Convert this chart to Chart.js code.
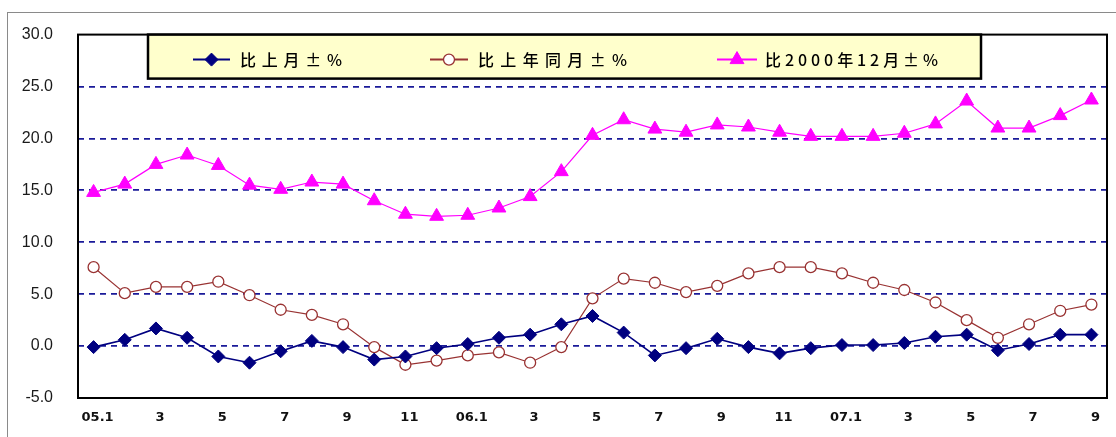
<!DOCTYPE html>
<html>
<head>
<meta charset="utf-8">
<script src="https://cdn.jsdelivr.net/npm/chart.js@4"></script>
<style>
  html, body { margin: 0; padding: 0; background: #fff; overflow: hidden; }
  #frame { position: absolute; left: 7px; top: 12px; width: 1300px; height: 700px;
           border-left: 1px solid #8a8a8a; border-top: 1.5px solid #8a8a8a; }
  #wrap { position: absolute; left: 0; top: 0; width: 1116px; height: 437px; }
</style>
</head>
<body>
<div id="frame"></div>
<div id="wrap"><canvas id="c"></canvas></div>
<script>
// Categories: months from 2005.1 to 2007.9
const categories = ['05.1','2','3','4','5','6','7','8','9','10','11','12',
                    '06.1','2','3','4','5','6','7','8','9','10','11','12',
                    '07.1','2','3','4','5','6','7','8','9'];
// Series labels
const seriesNames = ['比上月±%', '比上年同月±%', '比2000年12月±%'];
// Series values (%)
const momValues = [-0.1, 0.6, 1.7, 0.8, -1.0, -1.6, -0.5, 0.5, -0.1, -1.3, -1.0, -0.2,
                    0.2, 0.8, 1.1, 2.1, 2.9, 1.3, -0.9, -0.2, 0.7, -0.1, -0.7, -0.2,
                    0.1, 0.1, 0.3, 0.9, 1.1, -0.4, 0.2, 1.1, 1.1];
const yoyValues = [7.6, 5.1, 5.7, 5.7, 6.2, 4.9, 3.5, 3.0, 2.1, -0.1, -1.8, -1.4,
                   -0.9, -0.6, -1.6, -0.1, 4.6, 6.5, 6.1, 5.2, 5.8, 7.0, 7.6, 7.6,
                    7.0, 6.1, 5.4, 4.2, 2.5, 0.8, 2.1, 3.4, 4.0];
const baseValues = [14.8, 15.6, 17.5, 18.4, 17.4, 15.5, 15.1, 15.8, 15.6, 14.0, 12.7, 12.5,
                    12.6, 13.3, 14.4, 16.8, 20.3, 21.8, 20.9, 20.6, 21.3, 21.1, 20.6, 20.2,
                    20.2, 20.2, 20.5, 21.4, 23.6, 21.0, 21.0, 22.2, 23.7];
// Y axis ticks
const yTicks = [-5, 0, 5, 10, 15, 20, 25, 30];
const gridValues = [0, 5, 10, 15, 20, 25];

const colors = ['#000080', '#993333', '#ff00ff'];

const chartFrame = {
  id: 'chartFrame',
  afterDraw(chart) {
    const { ctx, chartArea: a } = chart;
    ctx.save();
    // plot border
    ctx.strokeStyle = '#000';
    ctx.lineWidth = 2;
    ctx.strokeRect(a.left, a.top, a.right - a.left, a.bottom - a.top);
    // legend box
    const lx = a.left + 70, ly = a.top, lw = 833, lh = 44;
    ctx.fillStyle = '#ffffcc';
    ctx.fillRect(lx, ly, lw, lh);
    ctx.lineWidth = 2.5;
    ctx.strokeStyle = '#000';
    ctx.strokeRect(lx, ly, lw, lh);
    const items = [
      { line: 45, lineW: 37, text: 92, textW: 102 },
      { line: 282, lineW: 38, text: 330, textW: 149 },
      { line: 569, lineW: 40, text: 617, textW: 173 }
    ];
    const cy = ly + 25;
    chart.data.datasets.forEach((ds, i) => {
      const it = items[i];
      ctx.save();
      ctx.strokeStyle = ds.borderColor;
      ctx.lineWidth = 2;
      ctx.setLineDash([]);
      ctx.beginPath();
      ctx.moveTo(lx + it.line, cy);
      ctx.lineTo(lx + it.line + it.lineW, cy);
      ctx.stroke();
      const opts = {
        pointStyle: ds.pointStyle,
        radius: ds.pointRadius,
        borderWidth: ds.pointBorderWidth
      };
      ctx.fillStyle = ds.pointBackgroundColor;
      ctx.strokeStyle = ds.pointBorderColor;
      ctx.lineWidth = ds.pointBorderWidth;
      Chart.helpers.drawPoint(ctx, opts, lx + it.line + it.lineW / 2, cy);
      ctx.restore();
      // text
      ctx.save();
      ctx.fillStyle = '#000';
      ctx.font = '500 16px "Noto Sans CJK SC", sans-serif';
      ctx.textBaseline = 'middle';
      ctx.textAlign = 'left';
      const txt = ds.label;
      const n = Array.from(txt).length;
      const w0 = ctx.measureText(txt).width;
      const sp = Math.max(0, (it.textW - w0) / (n - 1));
      ctx.letterSpacing = sp.toFixed(2) + 'px';
      ctx.fillText(txt, lx + it.text, cy);
      ctx.restore();
    });
    ctx.restore();
  }
};

new Chart(document.getElementById('c'), {
  type: 'line',
  data: {
    labels: categories,
    datasets: [
      {
        label: seriesNames[0], data: momValues,
        borderColor: colors[0], borderWidth: 1.6,
        pointStyle: 'rectRot', pointRadius: 6.5, pointBorderWidth: 1,
        pointBackgroundColor: colors[0], pointBorderColor: colors[0],
        tension: 0
      },
      {
        label: seriesNames[1], data: yoyValues,
        borderColor: colors[1], borderWidth: 1.2,
        pointStyle: 'circle', pointRadius: 5.5, pointBorderWidth: 1.3,
        pointBackgroundColor: '#ffffff', pointBorderColor: colors[1],
        tension: 0
      },
      {
        label: seriesNames[2], data: baseValues,
        borderColor: colors[2], borderWidth: 1.2,
        pointStyle: 'triangle', pointRadius: 8, pointBorderWidth: 1,
        pointBackgroundColor: colors[2], pointBorderColor: colors[2],
        tension: 0
      }
    ]
  },
  options: {
    responsive: true,
    maintainAspectRatio: false,
    animation: false,
    layout: { padding: { top: 32, right: 5, left: 0, bottom: 0 } },
    plugins: { legend: { display: false }, tooltip: { enabled: false } },
    scales: {
      x: {
        offset: true,
        grid: { display: false, drawTicks: false },
        border: { display: false },
        afterFit(scale) { scale.height = 39; },
        ticks: {
          autoSkip: false, maxRotation: 0, minRotation: 0, padding: 12,
          labelOffset: 4,
          color: '#111',
          font: { family: 'DejaVu Sans', size: 13, weight: 'bold' },
          callback(v, i) { return i % 2 === 0 ? categories[i] : ''; }
        }
      },
      y: {
        min: yTicks[0], max: yTicks[yTicks.length - 1],
        afterFit(scale) { scale.width = 78; },
        afterBuildTicks(scale) { scale.ticks = yTicks.map(v => ({ value: v })); },
        grid: {
          drawTicks: false,
          lineWidth: 1.8,
          color(ctx) { return gridValues.includes(ctx.tick && ctx.tick.value) ? '#1a1a99' : 'rgba(0,0,0,0)'; }
        },
        border: { display: false, dash: [6, 5] },
        ticks: {
          padding: 25, color: '#1a1a1a',
          font: { family: 'Liberation Sans', size: 16 },
          callback(v) { return Number(v).toFixed(1); }
        }
      }
    }
  },
  plugins: [chartFrame]
});
</script>
</body>
</html>
